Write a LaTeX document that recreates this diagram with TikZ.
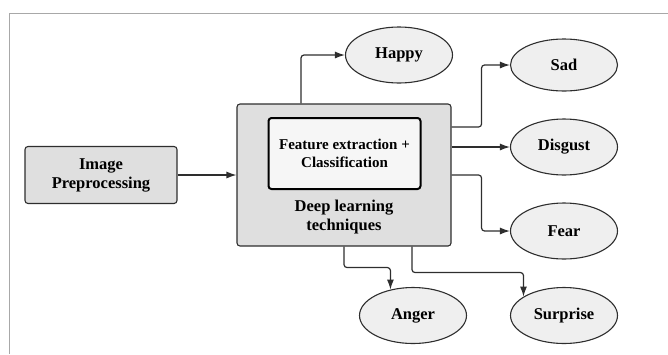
\documentclass[tikz,border=0pt]{standalone}
\usepackage{fontspec}
\setmainfont{Liberation Serif}
\usetikzlibrary{arrows.meta,shapes.geometric}

\definecolor{framegray}{HTML}{A8A8A8}
\definecolor{edgegray}{HTML}{2E2E2E}
\definecolor{boxgray}{HTML}{DFDFDF}
\definecolor{innergray}{HTML}{F6F6F6}
\definecolor{ovalgray}{HTML}{EFEFEF}

\tikzset{
    stagebox/.style={draw=edgegray, fill=boxgray, line width=1.1pt, rounded corners=3pt,
        align=center, font=\bfseries\fontsize{16.5}{19}\selectfont},
    innerbox/.style={draw=black, fill=innergray, line width=2pt, rounded corners=3pt,
        align=center, font=\bfseries\fontsize{15}{18}\selectfont},
    emotion/.style={ellipse, draw=edgegray, fill=ovalgray, line width=1.1pt,
        minimum width=107pt, minimum height=56pt, inner sep=0pt,
        font=\bfseries\fontsize{16.5}{19}\selectfont},
    link/.style={draw=edgegray, line width=1.2pt, rounded corners=3pt,
        -{Latex[length=10pt,width=7pt]}},
}

\begin{document}
\begin{tikzpicture}[x=1pt, y=-1pt]
    \useasboundingbox (0,0) rectangle (668,354);
    % frame
    \draw[framegray, line width=1pt] (9,354) -- (9,13) -- (668,13);

    \node[stagebox, minimum width=152pt, minimum height=57pt] (imgprep) at (101,175) {Image\\Preprocessing};
    \node[stagebox, minimum width=214pt, minimum height=142pt] (dlbox) at (344,175) {};
    \node[innerbox, minimum width=152pt, minimum height=71pt] (fexbox) at (344.5,153.5) {Feature extraction +\\Classification};
    \node[align=center, font=\bfseries\fontsize{16.5}{19}\selectfont] (dltext) at (344,217) {Deep learning\\techniques};

    \node[emotion] (happy) at (399,55) {Happy};
    \node[emotion, minimum height=52pt] (sad) at (564,65) {Sad};
    \node[emotion] (disgust) at (564,147) {Disgust};
    \node[emotion] (fear) at (564,231) {Fear};
    \node[emotion] (anger) at (413,315.5) {Anger};
    \node[emotion] (surprise) at (564,315.5) {Surprise};

    % connectors
    \draw[link] (imgprep.east) -- (dlbox.west |- imgprep.east);
    \draw[link] ([xshift=-43pt]dlbox.north) |- (happy.west);
    \draw[link] ([yshift=48pt]dlbox.east) -- ++(30,0) |- (sad.west);
    \draw[link] (dlbox.east |- disgust.west) -- (disgust.west);
    \draw[link] (dlbox.east) -- ++(30,0) |- (fear.west);
    \draw[link] (dlbox.south) -- ++(0,21) -| (anger.131);
    \draw[link] ([xshift=68pt]dlbox.south) -- ++(0,26) -| (surprise.155);
\end{tikzpicture}
\end{document}
